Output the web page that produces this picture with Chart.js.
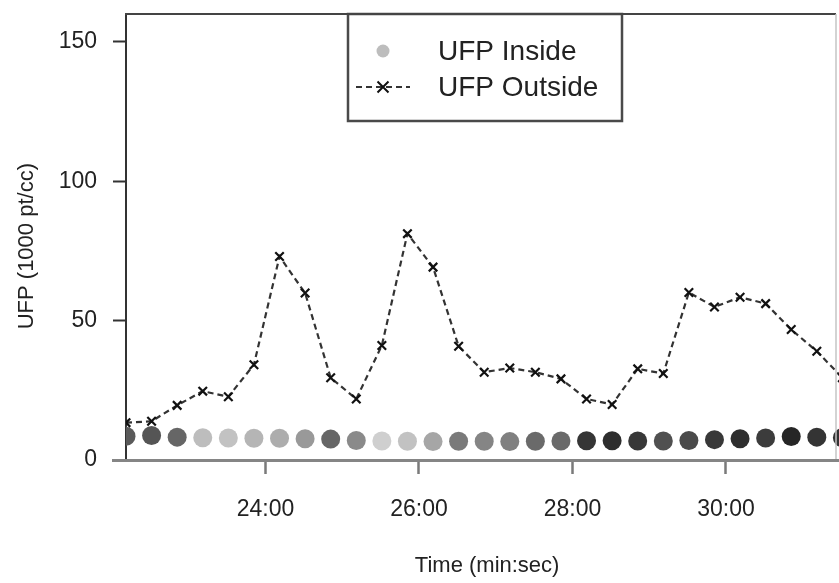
<!DOCTYPE html>
<html>
<head>
<meta charset="utf-8">
<script src="https://cdn.jsdelivr.net/npm/chart.js@4/dist/chart.umd.min.js"></script>
<style>
  html, body { margin: 0; padding: 0; background: #fff; }
  #wrap { width: 839px; height: 583px; position: relative; }
  canvas { display: block; }
</style>
</head>
<body>
<div id="wrap"><canvas id="c" width="839" height="583"></canvas></div>
<script>
// Sample times (min:sec), one reading every 20 s
const sampleTimes = ['22:11','22:31','22:51','23:11','23:31','23:51','24:11','24:31','24:51','25:11',
                     '25:31','25:51','26:11','26:31','26:51','27:11','27:31','27:51','28:11','28:31',
                     '28:51','29:11','29:31','29:51','30:11','30:31','30:51','31:11','31:31'];

// Ultrafine particle counts, 1000 pt/cc
const ufpOutside = [13.4, 13.9, 19.6, 24.7, 22.7, 34.2, 73.0, 59.9, 29.5, 21.9,
                    41.1, 81.2, 69.2, 40.8, 31.5, 33.0, 31.5, 29.1, 21.9, 19.9,
                    32.7, 31.0, 60.1, 54.9, 58.4, 56.1, 46.8, 39.0, 29.5];
const ufpInside  = [8.5, 8.8, 8.2, 8.0, 7.9, 7.8, 7.8, 7.6, 7.5, 7.0,
                    6.8, 6.7, 6.6, 6.7, 6.7, 6.6, 6.7, 6.8, 6.9, 6.9,
                    6.8, 6.8, 7.0, 7.3, 7.6, 7.9, 8.4, 8.2, 8.0];

// Axis ticks
const xTickLabels = ['24:00', '26:00', '28:00', '30:00'];
const yTickValues = [0, 50, 100, 150];
const xRange = ['22:11', '31:26'];
const yRange = [0, 160];

// Grey shade of each inside marker
const insideShades = ['#5a5a5a','#555555','#666666','#bdbdbd','#c2c2c2','#b5b5b5','#adadad','#999999','#666666','#8a8a8a',
                      '#cfcfcf','#c2c2c2','#a6a6a6','#7a7a7a','#858585','#808080','#6a6a6a','#6a6a6a','#353535','#2e2e2e',
                      '#383838','#505050','#4a4a4a','#383838','#2e2e2e','#3c3c3c','#262626','#343434','#333333'];

const toSec = s => { const [m, sec] = s.split(':').map(Number); return m * 60 + sec; };
const fmt = v => { const m = Math.floor(v / 60), s = Math.round(v - m * 60); return m + ':' + String(s).padStart(2, '0'); };

const FONT = '"Liberation Sans", Arial, Helvetica, sans-serif';
Chart.defaults.font.family = FONT;
Chart.defaults.color = '#222';

// Plot frame: top and right edges, plus the x axis line running past the y axis
const framePlugin = {
  id: 'frame',
  afterDraw(chart) {
    const { ctx, chartArea: a } = chart;
    ctx.save();
    ctx.strokeStyle = '#444';
    ctx.lineWidth = 2;
    ctx.beginPath();
    ctx.moveTo(a.left - 1, a.top);
    ctx.lineTo(a.right, a.top);
    ctx.stroke();
    ctx.strokeStyle = '#c4c4c4';
    ctx.lineWidth = 1.5;
    ctx.beginPath();
    ctx.moveTo(a.right, a.top);
    ctx.lineTo(a.right, a.bottom);
    ctx.stroke();
    ctx.strokeStyle = '#858585';
    ctx.lineWidth = 3;
    ctx.beginPath();
    ctx.moveTo(a.left - 14, a.bottom + 0.5);
    ctx.lineTo(chart.width, a.bottom + 0.5);
    ctx.stroke();
    ctx.restore();
  }
};

// Boxed legend in the upper part of the plot
const boxLegend = {
  id: 'boxLegend',
  afterDatasetsDraw(chart) {
    const { ctx, chartArea: a } = chart;
    const ds = chart.data.datasets;
    const x0 = 348, y0 = a.top, w = 274, h = 107;
    ctx.save();
    ctx.fillStyle = '#fff';
    ctx.fillRect(x0, y0, w, h);
    ctx.strokeStyle = '#4a4a4a';
    ctx.lineWidth = 2.5;
    ctx.strokeRect(x0, y0, w, h);

    const mx = 383, rows = [51, 87];
    // inside: filled circle
    ctx.fillStyle = ds[0].legendColor;
    ctx.beginPath();
    ctx.arc(mx, rows[0], 6.5, 0, Math.PI * 2);
    ctx.fill();
    // outside: dashed segment with a cross
    ctx.strokeStyle = ds[1].borderColor;
    ctx.lineWidth = 2;
    ctx.setLineDash(ds[1].borderDash);
    ctx.beginPath();
    ctx.moveTo(356, rows[1]);
    ctx.lineTo(410, rows[1]);
    ctx.stroke();
    ctx.setLineDash([]);
    ctx.strokeStyle = ds[1].pointBorderColor;
    ctx.lineWidth = 2;
    const r = 5.5;
    ctx.beginPath();
    ctx.moveTo(mx - r, rows[1] - r); ctx.lineTo(mx + r, rows[1] + r);
    ctx.moveTo(mx - r, rows[1] + r); ctx.lineTo(mx + r, rows[1] - r);
    ctx.stroke();

    ctx.fillStyle = '#222';
    ctx.font = '28px ' + FONT;
    ctx.textBaseline = 'middle';
    ctx.textAlign = 'left';
    ctx.fillText(ds[0].label, 438, rows[0] + 1);
    ctx.fillText(ds[1].label, 438, rows[1] + 1);
    ctx.restore();
  }
};

const xs = sampleTimes.map(toSec);

new Chart(document.getElementById('c'), {
  type: 'line',
  data: {
    datasets: [
      {
        label: 'UFP Inside',
        data: xs.map((x, i) => ({ x, y: ufpInside[i] })),
        showLine: false,
        pointStyle: 'circle',
        pointRadius: 9.5,
        pointBackgroundColor: insideShades,
        pointBorderColor: insideShades,
        pointBorderWidth: 0,
        legendColor: '#bdbdbd',
        clip: { left: 0, top: false, right: false, bottom: false },
        order: 2
      },
      {
        label: 'UFP Outside',
        data: xs.map((x, i) => ({ x, y: ufpOutside[i] })),
        borderColor: '#333',
        borderWidth: 2.2,
        borderDash: [6, 4],
        tension: 0,
        fill: false,
        pointStyle: 'crossRot',
        pointRadius: 6,
        pointBorderColor: '#111',
        pointBorderWidth: 2.2,
        clip: { left: 0, top: false, right: false, bottom: false },
        order: 1
      }
    ]
  },
  options: {
    responsive: false,
    animation: false,
    events: [],
    layout: { autoPadding: false, padding: { top: 14, right: 3, left: 0, bottom: 0 } },
    plugins: { legend: { display: false }, tooltip: { enabled: false } },
    scales: {
      x: {
        type: 'linear',
        min: toSec(xRange[0]),
        max: toSec(xRange[1]),
        afterBuildTicks: s => { s.ticks = xTickLabels.map(t => ({ value: toSec(t) })); },
        afterFit: s => { s.height = 123; s.paddingLeft = 0; s.paddingRight = 0; },
        ticks: { callback: v => fmt(v), font: { size: 23 }, color: '#222', padding: 22, maxRotation: 0, autoSkip: false },
        grid: { drawOnChartArea: false, drawTicks: true, tickLength: 14, tickColor: '#7a7a7a', tickWidth: 2.5 },
        border: { display: true, color: '#858585', width: 3 },
        title: { display: true, text: '  Time (min:sec)', font: { size: 22 }, color: '#222', padding: { top: 0, bottom: 4 } }
      },
      y: {
        type: 'linear',
        min: yRange[0],
        max: yRange[1],
        afterBuildTicks: s => { s.ticks = yTickValues.map(v => ({ value: v })); },
        afterFit: s => { s.width = 126; s.paddingTop = 0; s.paddingBottom = 0; },
        ticks: { font: { size: 23 }, color: '#222', padding: 16 },
        grid: { drawOnChartArea: false, drawTicks: true, tickLength: 13, tickColor: '#333', tickWidth: 2 },
        border: { display: true, color: '#333', width: 2 },
        title: { display: true, text: 'UFP (1000 pt/cc)   ', font: { size: 22 }, color: '#222', padding: { top: 14, bottom: 0 } }
      }
    }
  },
  plugins: [framePlugin, boxLegend]
});
</script>
</body>
</html>
